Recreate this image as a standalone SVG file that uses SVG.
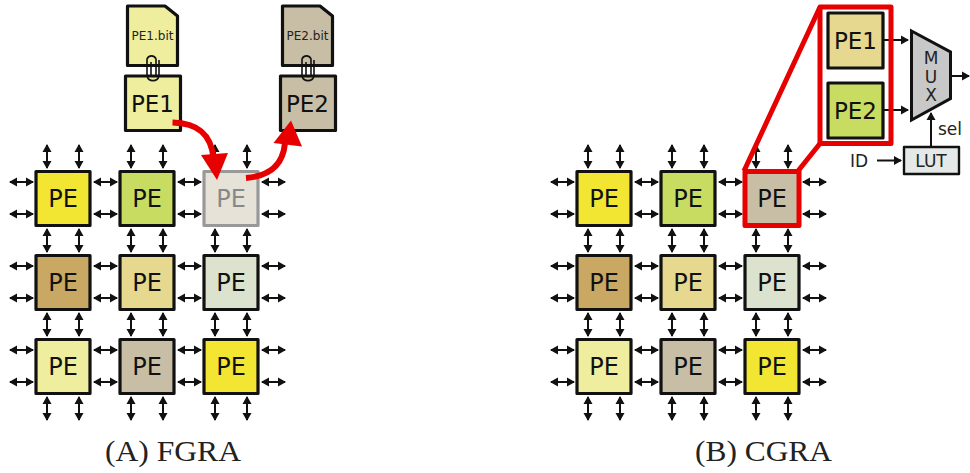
<svg xmlns="http://www.w3.org/2000/svg" xmlns:xlink="http://www.w3.org/1999/xlink" width="970" height="473" viewBox="0 0 970 473">
<style>
text{font-family:"DejaVu Sans","Liberation Sans",sans-serif;fill:#111;text-anchor:middle}
.box{stroke:#111;stroke-width:3.2;stroke-linejoin:round}
.pe{font-size:24px}
.bit{font-size:12px;fill:#222}
.cap{font-family:"Liberation Serif",serif;font-size:29px;fill:#222}
.arr{stroke:#111;stroke-width:2;fill:none;marker-start:url(#ah);marker-end:url(#ah)}
.one{stroke:#111;stroke-width:2;fill:none;marker-end:url(#ah)}
.red{stroke:#e60000;stroke-width:5;fill:none;stroke-linejoin:round}
.clip{stroke:#111;stroke-width:1.6;fill:none}
.small{font-size:17px;fill:#222}
</style>
<defs>
<marker id="ah" markerUnits="userSpaceOnUse" markerWidth="10" markerHeight="10" refX="7" refY="5" orient="auto-start-reverse"><path d="M0,0.5 L8,5 L0,9.5 Z" fill="#111"/></marker>
<g id="v2"><line class="arr" x1="11" x2="11" y1="1" y2="24"/><line class="arr" x1="43" x2="43" y1="1" y2="24"/></g>
<g id="h2"><line class="arr" x1="1" x2="24" y1="0" y2="0"/><line class="arr" x1="1" x2="24" y1="32" y2="32"/></g>
<g id="vrow"><use href="#v2" x="0"/><use href="#v2" x="84"/><use href="#v2" x="168"/></g>
<g id="hrow"><use href="#h2" x="0"/><use href="#h2" x="84"/><use href="#h2" x="168"/><use href="#h2" x="252"/></g>
<g id="arrows"><use href="#vrow" x="36" y="144"/><use href="#vrow" x="36" y="228"/><use href="#vrow" x="36" y="312"/><use href="#vrow" x="36" y="396"/><use href="#hrow" x="9" y="182"/><use href="#hrow" x="9" y="266"/><use href="#hrow" x="9" y="350"/></g>
<path id="pclip" class="clip" d="M159,60 V76 a6.2,6.2 0 0 1 -12,0 V59 a4.8,4.8 0 0 1 9,0 V75 a2.8,2.8 0 0 1 -5,0 V62"/>
</defs>

<g id="fgra-a1"><rect class="box" x="36" y="171.5" width="54" height="54" fill="#f3e633"/><text class="pe" x="63" y="206.5">PE</text></g>
<g id="fgra-a2"><rect class="box" x="120" y="171.5" width="54" height="54" fill="#c8dc62"/><text class="pe" x="147" y="206.5">PE</text></g>
<g id="fgra-a3"><rect x="204" y="171.5" width="54" height="54" fill="#e6e2d8" stroke="#999" stroke-width="3.2" stroke-linejoin="round"/><text class="pe" x="231" y="206.5" style="fill:#888">PE</text></g>
<g id="fgra-b1"><rect class="box" x="36" y="255.5" width="54" height="54" fill="#c8a862"/><text class="pe" x="63" y="290.5">PE</text></g>
<g id="fgra-b2"><rect class="box" x="120" y="255.5" width="54" height="54" fill="#e6d88e"/><text class="pe" x="147" y="290.5">PE</text></g>
<g id="fgra-b3"><rect class="box" x="204" y="255.5" width="54" height="54" fill="#dbe2cd"/><text class="pe" x="231" y="290.5">PE</text></g>
<g id="fgra-c1"><rect class="box" x="36" y="339.5" width="54" height="54" fill="#eeee9e"/><text class="pe" x="63" y="374.5">PE</text></g>
<g id="fgra-c2"><rect class="box" x="120" y="339.5" width="54" height="54" fill="#c8bea6"/><text class="pe" x="147" y="374.5">PE</text></g>
<g id="fgra-c3"><rect class="box" x="204" y="339.5" width="54" height="54" fill="#f3e633"/><text class="pe" x="231" y="374.5">PE</text></g>

<g id="cgra-a1"><rect class="box" x="577" y="171.5" width="54" height="54" fill="#f3e633"/><text class="pe" x="604" y="206.5">PE</text></g>
<g id="cgra-a2"><rect class="box" x="661" y="171.5" width="54" height="54" fill="#c8dc62"/><text class="pe" x="688" y="206.5">PE</text></g>
<g id="cgra-b1"><rect class="box" x="577" y="255.5" width="54" height="54" fill="#c8a862"/><text class="pe" x="604" y="290.5">PE</text></g>
<g id="cgra-b2"><rect class="box" x="661" y="255.5" width="54" height="54" fill="#e6d88e"/><text class="pe" x="688" y="290.5">PE</text></g>
<g id="cgra-b3"><rect class="box" x="745" y="255.5" width="54" height="54" fill="#dbe2cd"/><text class="pe" x="772" y="290.5">PE</text></g>
<g id="cgra-c1"><rect class="box" x="577" y="339.5" width="54" height="54" fill="#eeee9e"/><text class="pe" x="604" y="374.5">PE</text></g>
<g id="cgra-c2"><rect class="box" x="661" y="339.5" width="54" height="54" fill="#c8bea6"/><text class="pe" x="688" y="374.5">PE</text></g>
<g id="cgra-c3"><rect class="box" x="745" y="339.5" width="54" height="54" fill="#f3e633"/><text class="pe" x="772" y="374.5">PE</text></g>

<g id="file1"><path class="box" d="M127.5,6 H165 L177.5,16 V65.5 H127.5 Z" fill="#eeee9e"/><text class="bit" x="152.5" y="40">PE1.bit</text></g>
<g id="file2"><path class="box" d="M282.5,6 H320 L332.5,16 V65.5 H282.5 Z" fill="#c8bea6"/><text class="bit" x="307.5" y="40">PE2.bit</text></g>
<g id="pe1-top"><rect class="box" x="125.5" y="76" width="55" height="54.5" fill="#eeee9e"/><text class="pe" style="font-size:23px" x="152.5" y="111.5">PE1</text></g>
<g id="pe2-top"><rect class="box" x="280.5" y="76" width="55" height="54.5" fill="#c8bea6"/><text class="pe" style="font-size:23px" x="307.5" y="111.5">PE2</text></g>
<g id="clips"><use href="#pclip"/><use href="#pclip" x="155"/></g>

<g id="connectors">
<use href="#arrows"/>
<use href="#arrows" x="541"/>
<line class="one" x1="883" y1="40" x2="908" y2="40"/>
<line class="one" x1="883" y1="110" x2="908" y2="110"/>
<line class="one" x1="950" y1="76" x2="969" y2="76"/>
<line class="one" x1="931" y1="147" x2="931" y2="113"/>
<line class="one" x1="877" y1="160.5" x2="901" y2="160.5"/>
<path d="M172.5,122.5 C198,123 211,134 213.5,158" stroke="#e60000" stroke-width="6" fill="none"/>
<path d="M201,155 L228,153 L217,180 Z" fill="#e60000"/>
<path d="M246,178 C270,176 283,165 285,143" stroke="#e60000" stroke-width="6" fill="none"/>
<path d="M273.5,143 L291,120.5 L302,146.5 Z" fill="#e60000"/>
</g>

<g id="cgra-a3"><rect x="745" y="171.5" width="54" height="54" fill="#c8bea6" stroke="#e60000" stroke-width="5" stroke-linejoin="round"/><text class="pe" x="772" y="206.5">PE</text></g>
<g id="zoom-outline"><path class="red" d="M744,171 L820,7 H891 V143.5 H820 L798,171"/><line class="red" x1="820" y1="7" x2="820" y2="143.5"/></g>
<g id="pe1-cfg"><rect class="box" x="828" y="13" width="55" height="55" fill="#e6d88e"/><text class="pe" style="font-size:23px" x="855.5" y="49">PE1</text></g>
<g id="pe2-cfg"><rect class="box" x="828" y="83" width="55" height="55" fill="#c8dc62"/><text class="pe" style="font-size:23px" x="855.5" y="119">PE2</text></g>
<g id="mux"><path d="M911.5,31 L950.5,52 V98.5 L911.5,120 Z" fill="#c8c8c8" stroke="#111" stroke-width="3"/><text class="small" x="931" y="64">M</text><text class="small" x="931" y="83">U</text><text class="small" x="931" y="101">X</text></g>
<g id="lut"><rect x="904" y="147" width="55" height="27" fill="#e4e8e6" stroke="#111" stroke-width="2.4" stroke-linejoin="round"/><text class="small" x="931" y="167">LUT</text></g>
<text class="small" x="859" y="167">ID</text>
<text class="small" x="950" y="135">sel</text>
<text class="cap" x="173" y="461" textLength="136" lengthAdjust="spacingAndGlyphs">(A) FGRA</text>
<text class="cap" x="763.5" y="461" textLength="137" lengthAdjust="spacingAndGlyphs">(B) CGRA</text>
</svg>
